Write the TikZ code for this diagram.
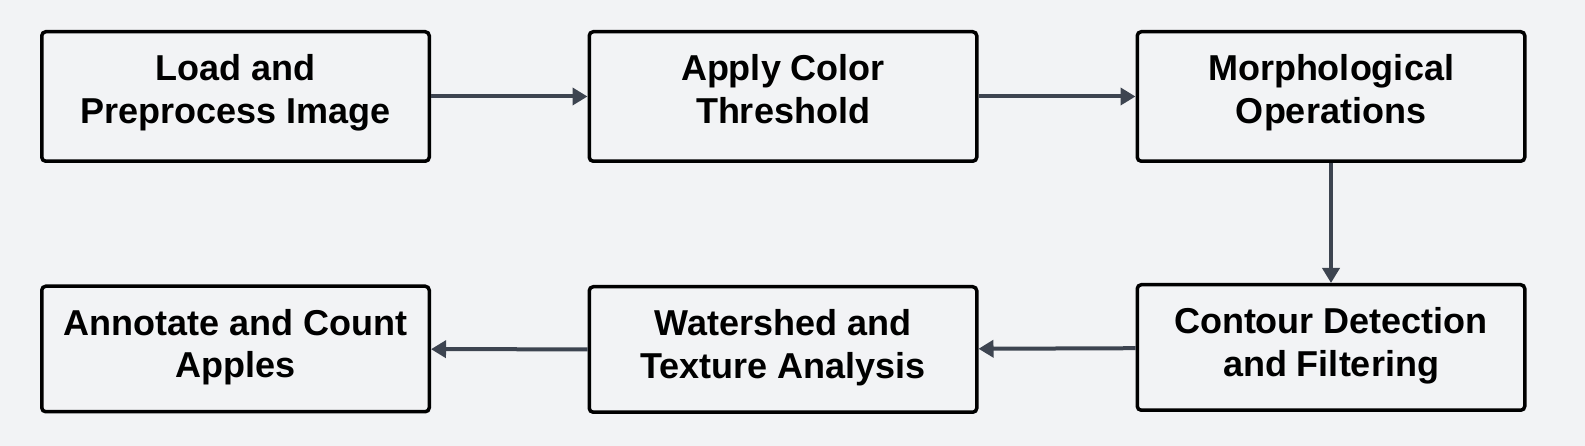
\documentclass[tikz,border=0pt]{standalone}
\usepackage{fontspec}
\setmainfont{Liberation Sans}
\usepackage{xcolor}
\usetikzlibrary{arrows.meta}
\definecolor{bg}{HTML}{F2F3F5}
\definecolor{edge}{HTML}{000000}
\definecolor{flow}{HTML}{3D4450}
\newcommand{\ls}{\rule[-15.8pt]{0pt}{42.6pt}}
\newcommand{\lsl}{\rule[-13.6pt]{0pt}{42.6pt}}
\tikzset{
  stage/.style={draw=edge, fill=bg, line width=3.5pt, rounded corners=4pt,
    minimum width=387.5pt, align=center, inner sep=0pt,
    font=\fontsize{36}{42.6}\selectfont\bfseries},
  top/.style={stage, minimum height=129.5pt},
  low/.style={stage, minimum height=125.5pt},
  link/.style={draw=flow, line width=4pt, -{Triangle[length=15pt,width=17pt]}}
}
\begin{document}
\begin{tikzpicture}[x=1pt,y=1pt]
  \fill[bg] (0,0) rectangle (1585,446);
  \useasboundingbox (0,0) rectangle (1585,446);

  % upper row
  \node[top] (load) at (235.5,349.5) {\ls Load and\\\ls Preprocess Image};
  \node[top] (thresh) at (783,349.5) {\ls Apply Color\\\ls Threshold};
  \node[top] (morph) at (1331,349.5) {\ls Morphological\\\ls Operations};

  % lower row
  \node[low] (contour) at (1331,98.5) {\lsl Contour Detection\\\lsl and Filtering};
  \node[low] (water) at (783,96.5) {\lsl Watershed and\\\lsl Texture Analysis};
  \node[low] (count) at (235.5,97) {\lsl Annotate and Count\\\lsl Apples};

  \draw[link] (load) -- (thresh);
  \draw[link] (thresh) -- (morph);
  \draw[link] (morph) -- (contour);
  \draw[link] (contour) -- (water);
  \draw[link] (water) -- (count);
\end{tikzpicture}
\end{document}
